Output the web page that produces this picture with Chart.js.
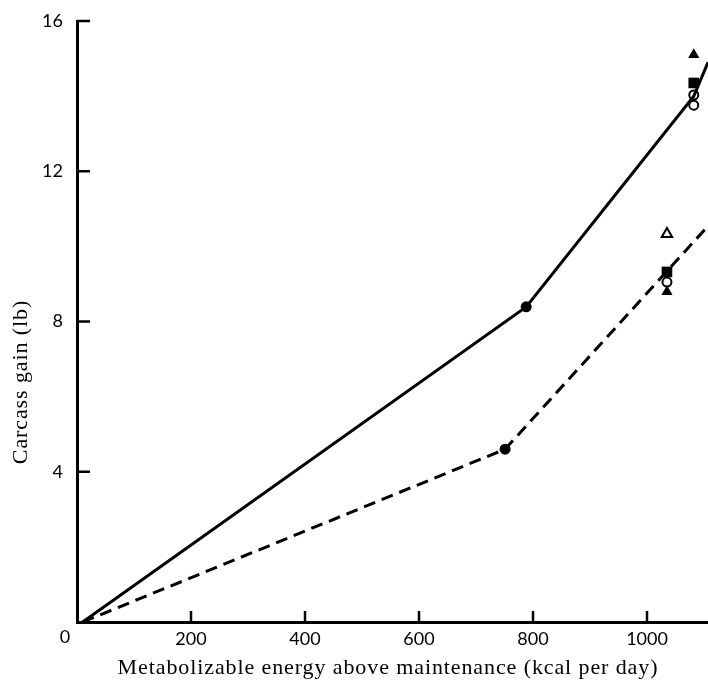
<!DOCTYPE html>
<html>
<head>
<meta charset="utf-8">
<script src="https://cdn.jsdelivr.net/npm/chart.js@4"></script>
<style>
  html, body { margin: 0; padding: 0; background: #fff; overflow: hidden; }
  #wrap { width: 708px; height: 683px; }
  canvas { display: block; }
</style>
</head>
<body>
<div id="wrap"><canvas id="gainChart" width="708" height="683"></canvas></div>
<script>
// energy above maintenance (kcal/day) vs carcass gain (lb)
const solidX = [10, 788, 1082, 1107];
const solidY = [0, 8.39, 14.0, 14.9];
const dashedX = [10, 751, 1107];
const dashedY = [0, 4.6, 10.54];

// individual markers
const filledCircleX = [788, 751];
const filledCircleY = [8.39, 4.6];
const filledTriangleX = [1082, 1035];
const filledTriangleY = [15.1, 8.79];
const filledSquareX = [1082, 1035];
const filledSquareY = [14.35, 9.32];
const openCircleX = [1082, 1082, 1035];
const openCircleY = [14.03, 13.76, 9.05];
const openTriangleX = [1035];
const openTriangleY = [10.33];

const xTicks = [0, 200, 400, 600, 800, 1000];
const yTicks = [4, 8, 12, 16];

const xTitle = 'Metabolizable energy above maintenance (kcal per day)';
const yTitle = 'Carcass gain (lb)';

const pts = (xs, ys) => xs.map((x, i) => ({ x: x, y: ys[i] }));

const marker = (xs, ys, style, filled, r) => ({
  type: 'scatter',
  data: pts(xs, ys),
  pointStyle: style,
  pointRadius: r,
  pointHoverRadius: r,
  backgroundColor: filled ? '#000' : '#fff',
  borderColor: '#000',
  borderWidth: filled ? 0 : 2,
});

// ticks point inwards, the lone "0" sits at the corner, titles are letter-spaced
const axisExtras = {
  id: 'axisExtras',
  afterDraw(chart) {
    const { ctx, scales: { x, y } } = chart;
    ctx.save();
    ctx.strokeStyle = '#000';
    ctx.lineWidth = 2.5;
    xTicks.forEach(v => {
      if (v === 0) return;
      const px = x.getPixelForValue(v);
      ctx.beginPath();
      ctx.moveTo(px, x.top);
      ctx.lineTo(px, x.top - 11);
      ctx.stroke();
    });
    yTicks.forEach(v => {
      const py = y.getPixelForValue(v);
      ctx.beginPath();
      ctx.moveTo(y.right, py);
      ctx.lineTo(y.right + 13, py);
      ctx.stroke();
    });
    ctx.fillStyle = '#000';
    ctx.font = '18px Lato';
    ctx.textAlign = 'center';
    ctx.textBaseline = 'middle';
    ctx.fillText('0', x.getPixelForValue(0) - 12, 637);

    ctx.font = '22px "Liberation Serif"';
    ctx.letterSpacing = '0.9px';
    ctx.fillText(xTitle, 388, 668);
    ctx.translate(21, 382);
    ctx.rotate(-Math.PI / 2);
    ctx.fillText(yTitle, 0, 0);
    ctx.restore();
  }
};

const ctx = document.getElementById('gainChart').getContext('2d');
const gainChart = new Chart(ctx, {
  type: 'scatter',
  data: {
    datasets: [
      {
        type: 'line',
        data: pts(solidX, solidY),
        borderColor: '#000',
        borderWidth: 3,
        pointRadius: 0,
        tension: 0,
      },
      {
        type: 'line',
        data: pts(dashedX, dashedY),
        borderColor: '#000',
        borderWidth: 3,
        borderDash: [12, 7],
        pointRadius: 0,
        tension: 0,
      },
      marker(filledCircleX, filledCircleY, 'circle', true, 5.5),
      marker(filledTriangleX, filledTriangleY, 'triangle', true, 6.5),
      marker(filledSquareX, filledSquareY, 'rect', true, 7.5),
      marker(openCircleX, openCircleY, 'circle', false, 4.5),
      marker(openTriangleX, openTriangleY, 'triangle', false, 6),
    ]
  },
  options: {
    responsive: false,
    animation: false,
    layout: { autoPadding: false, padding: { top: 21, right: 0, left: 0, bottom: 0 } },
    plugins: {
      legend: { display: false },
      tooltip: { enabled: false },
    },
    scales: {
      x: {
        type: 'linear',
        min: 0,
        max: 1107,
        afterFit: (scale) => {
          scale.height = 61;
          scale.paddingLeft = 0;
          scale.paddingRight = 0;
        },
        afterBuildTicks: (scale) => { scale.ticks = xTicks.map(v => ({ value: v })); },
        grid: { display: false, drawTicks: false },
        border: { display: true, color: '#000', width: 3 },
        ticks: {
          padding: 6,
          color: '#000',
          font: { family: 'Lato', size: 18 },
          callback: (value) => (value === 0 ? '' : value),
        },
      },
      y: {
        min: 0,
        max: 16,
        afterFit: (scale) => {
          scale.width = 77;
          scale.paddingTop = 0;
          scale.paddingBottom = 0;
        },
        afterBuildTicks: (scale) => { scale.ticks = yTicks.map(v => ({ value: v })); },
        grid: { display: false, drawTicks: false },
        border: { display: true, color: '#000', width: 3 },
        ticks: {
          padding: 14,
          color: '#000',
          font: { family: 'Lato', size: 18 },
        },
      },
    },
  },
  plugins: [axisExtras],
});
</script>
</body>
</html>
